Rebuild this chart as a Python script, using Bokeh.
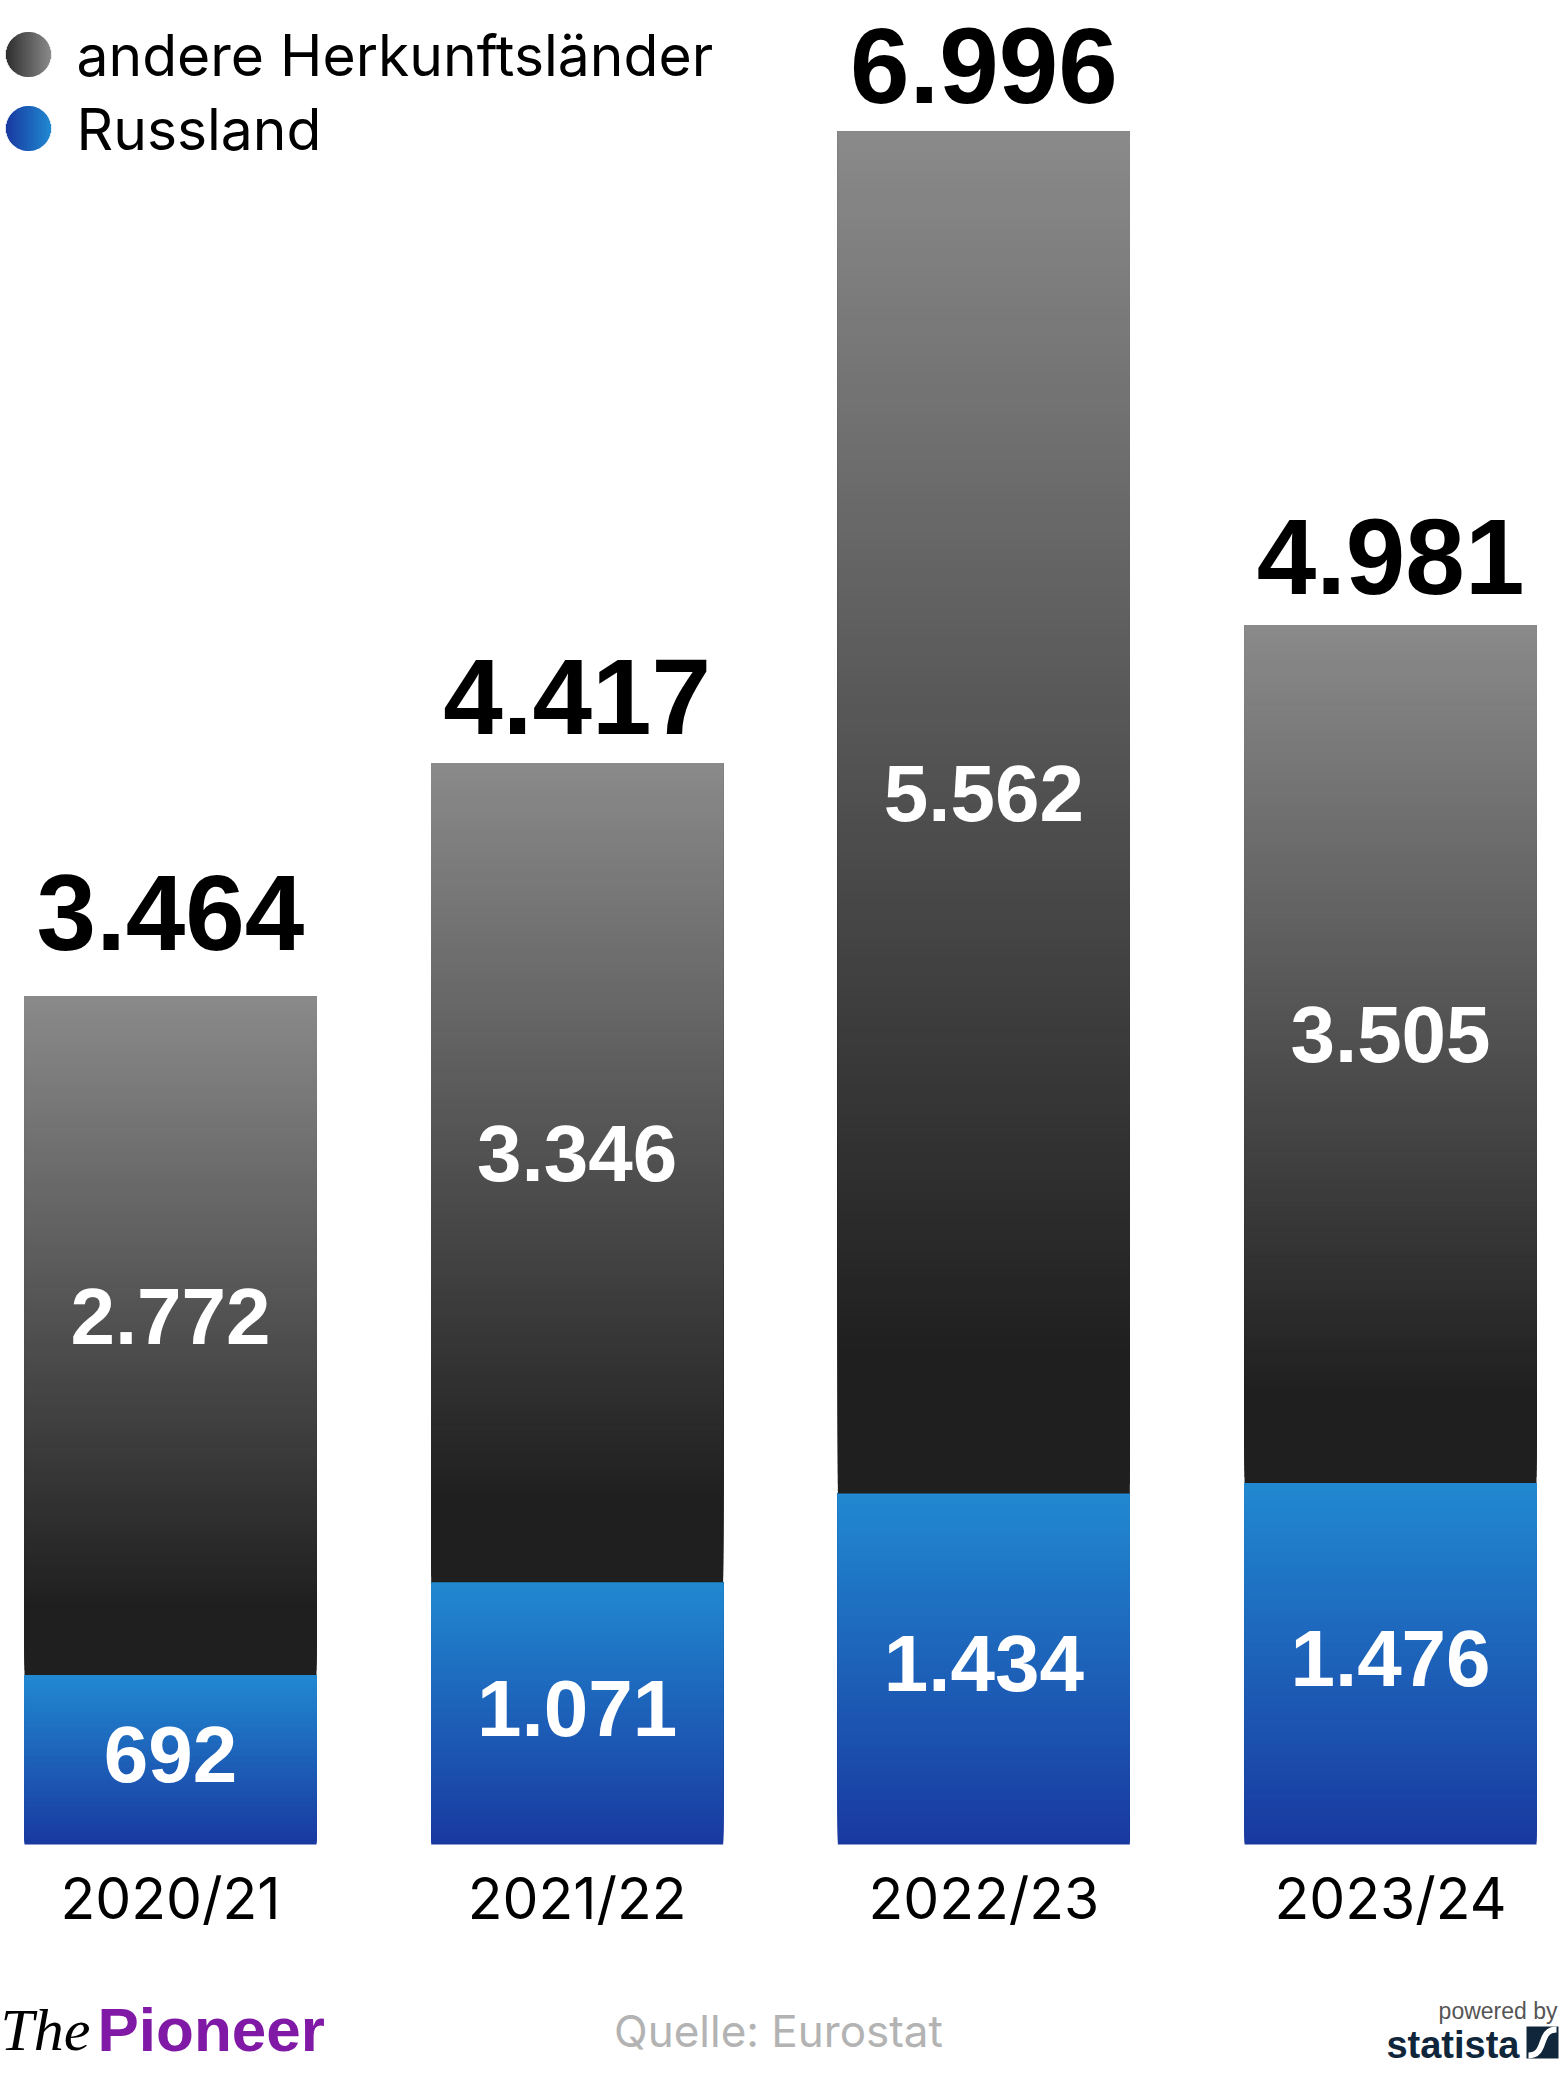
from bokeh.plotting import figure
from bokeh.models import Range1d
from bokeh.embed import file_html
from bokeh.resources import INLINE
from bokeh.core.properties import value

# ---------------- data ----------------
categories = ["2020/21", "2021/22", "2022/23", "2023/24"]
russland = [692, 1071, 1434, 1476]
andere = [2772, 3346, 5562, 3505]
totals = [r + a for r, a in zip(russland, andere)]
legend_labels = ["andere Herkunftsländer", "Russland"]
source_text = "Quelle: Eurostat"


def de(v):
    return f"{v:,}".replace(",", ".")


# ---------------- geometry ----------------
W, H = 1560, 2085
STEP_PX = 406.67          # pixels per category
BASE_PY = 1844            # baseline pixel row
TOP_PY = 131              # pixel row of the tallest bar top
k = (BASE_PY - TOP_PY) / max(totals)   # pixels per unit
x_start = -170 / STEP_PX
x_end = x_start + W / STEP_PX
y_end = BASE_PY / k
y_start = y_end - H / k
SHIFT = 0.34              # renderer puts the alphabetic baseline this fraction of the size lower
TOTAL_GAP_PX = [47, 30, 30, 32]   # style: gap between bar top and total label


def X(px):
    return x_start + px / STEP_PX


def Y(py):
    return y_end - py / k


def BL(py, size):
    """data y that puts a text baseline at pixel row py"""
    return Y(py - SHIFT * size)


def hex2rgb(h):
    h = h.lstrip("#")
    return tuple(int(h[i:i + 2], 16) for i in (0, 2, 4))


def lerp(c1, c2, t):
    a, b = hex2rgb(c1), hex2rgb(c2)
    return "#%02x%02x%02x" % tuple(round(a[i] + (b[i] - a[i]) * t) for i in range(3))


p = figure(width=W, height=H, x_range=Range1d(x_start, x_end), y_range=Range1d(y_start, y_end),
           output_backend="svg", toolbar_location=None, min_border=0,
           x_axis_type=None, y_axis_type=None, outline_line_color=None,
           background_fill_color="white", border_fill_color="white")
p.grid.visible = False

BW = 292 / STEP_PX
N = 140
GREY_TOP, GREY_BOT = "#8a8a8a", "#1f1f1f"
BLUE_TOP, BLUE_BOT = "#2189d1", "#1939a0"

L, R, B, T, C = [], [], [], [], []
for i in range(len(categories)):
    segs = [(0, russland[i], BLUE_BOT, BLUE_TOP, 0.0),
            (russland[i], totals[i], GREY_BOT, GREY_TOP, 0.1)]
    for bot, top, cb, ct, flat in segs:
        for j in range(N):
            f = (j + 0.5) / N
            t = 0.0 if f < flat else (f - flat) / (1 - flat)
            L.append(i - BW / 2)
            R.append(i + BW / 2)
            B.append(bot + (top - bot) * j / N)
            T.append(top)
            C.append(lerp(cb, ct, t))
p.quad(left=L, right=R, bottom=B, top=T, fill_color=C, line_color=None)

xs = list(range(len(categories)))
NUM_FONT = value("Liberation Sans")

# totals above bars
TS = 107
p.text(x=xs, y=[t + (g + SHIFT * TS) / k for t, g in zip(totals, TOTAL_GAP_PX)],
       text=[de(t) for t in totals],
       text_font=NUM_FONT, text_font_style="bold", text_font_size=f"{TS}px",
       text_align="center", text_baseline="alphabetic", text_color="#000000")

# inner labels
IS = 80
p.text(x=xs, y=[r + a / 2 - (8 - SHIFT * IS) / k for r, a in zip(russland, andere)],
       text=[de(a) for a in andere],
       text_font=NUM_FONT, text_font_style="bold", text_font_size=f"{IS}px",
       text_align="center", text_baseline="alphabetic", text_color="#ffffff")
p.text(x=xs, y=[r / 2 - (22 - SHIFT * IS) / k for r in russland], text=[de(r) for r in russland],
       text_font=NUM_FONT, text_font_style="bold", text_font_size=f"{IS}px",
       text_align="center", text_baseline="alphabetic", text_color="#ffffff")

# category labels
XS = 57
p.text(x=xs, y=[BL(1917, XS)] * len(xs), text=categories,
       text_font=value("Inter"), text_font_size=f"{XS}px",
       text_align="center", text_baseline="alphabetic", text_color="#000000")

# legend: gradient dots
cols = [("#2e2e2e", "#8a8a8a"), ("#1939a0", "#2189d1")]
centers = [54, 128]
r_px = 22.5
sx0, sx1, sy0, sy1, sc = [], [], [], [], []
for (cl, cr), cy in zip(cols, centers):
    n = 45
    for j in range(n):
        dx = -r_px + (j + 0.5) * (2 * r_px / n)
        hh = max(r_px ** 2 - dx ** 2, 0) ** 0.5
        sx0.append(X(28 + dx)); sx1.append(X(28 + dx))
        sy0.append(Y(cy - hh)); sy1.append(Y(cy + hh))
        sc.append(lerp(cl, cr, (j + 0.5) / n))
p.segment(x0=sx0, y0=sy0, x1=sx1, y1=sy1, line_color=sc, line_width=1.3)
LS = 57
p.text(x=[X(76)] * 2, y=[BL(74, LS), BL(148, LS)], text=legend_labels,
       text_font=value("Inter"), text_font_size=f"{LS}px",
       text_align="left", text_baseline="alphabetic", text_color="#000000")

# footer
p.text(x=[X(0)], y=[BL(2050, 60)], text=["The"], text_font=value("Liberation Serif"),
       text_font_style="italic", text_font_size="60px", text_align="left",
       text_baseline="alphabetic", text_color="#000000")
p.text(x=[X(97)], y=[BL(2050, 62)], text=["Pioneer"], text_font=value("Liberation Sans"),
       text_font_style="bold", text_font_size="62px", text_align="left",
       text_baseline="alphabetic", text_color="#8019a6")
p.text(x=[X(778)], y=[BL(2045, 44)], text=[source_text], text_font=value("Inter"),
       text_font_size="44px", text_align="center", text_baseline="alphabetic",
       text_color="#b3b3b3")
p.text(x=[X(1557)], y=[BL(2018, 23)], text=["powered by"], text_font=value("Liberation Sans"),
       text_font_size="23px", text_align="right", text_baseline="alphabetic",
       text_color="#555555")
p.text(x=[X(1519)], y=[BL(2057, 38)], text=["statista"],
       text_font=value("Liberation Sans"), text_font_style="bold",
       text_font_size="38px", text_align="right", text_baseline="alphabetic",
       text_color="#10263b")
p.quad(left=[X(1526)], right=[X(1558)], bottom=[Y(2058)], top=[Y(2026)],
       fill_color="#10263b", line_color=None)
p.bezier(x0=[X(1528)], y0=[Y(2055)], x1=[X(1556)], y1=[Y(2029)],
         cx0=[X(1547)], cy0=[Y(2055)], cx1=[X(1537)], cy1=[Y(2029)],
         line_color="white", line_width=6)

open("out.html", "w").write(file_html(p, INLINE))
